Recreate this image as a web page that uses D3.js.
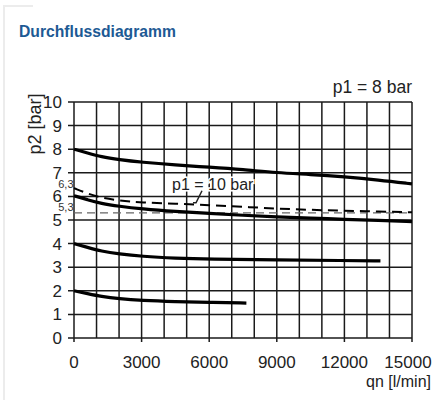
<!DOCTYPE html>
<html>
<head>
<meta charset="utf-8">
<script src="https://cdn.jsdelivr.net/npm/d3@7"></script>
<style>
  body { margin: 0; background: #fff; }
  text { font-family: "Liberation Sans", Arial, sans-serif; }
</style>
</head>
<body>
<div id="chart"></div>
<script>
//Data (qn in l/min, p2 in bar)
let xTicks = [0, 3000, 6000, 9000, 12000, 15000];
let yTicks = [0, 1, 2, 3, 4, 5, 6, 7, 8, 9, 10];
let curveP8 = [[0,8],[600,7.84],[1200,7.68],[2000,7.56],[3000,7.45],[4500,7.33],[6000,7.24],[7500,7.14],[9000,7.0],[10500,6.93],[12000,6.83],[13500,6.7],[15000,6.53]];
let curveP6 = [[0,6.03],[600,5.86],[1200,5.7],[2000,5.58],[3000,5.47],[4500,5.36],[6000,5.28],[7500,5.2],[9000,5.13],[10500,5.08],[12000,5.03],[13500,4.98],[15000,4.93]];
let curveP10 = [[0,6.35],[600,6.12],[1200,5.94],[2000,5.82],[3000,5.74],[4500,5.69],[6000,5.63],[7500,5.56],[9000,5.48],[10500,5.43],[12000,5.39],[13500,5.36],[15000,5.33]];
let curveP4 = [[0,4],[600,3.84],[1200,3.68],[2000,3.56],[3000,3.46],[4500,3.38],[6000,3.34],[9000,3.31],[12000,3.28],[13600,3.27]];
let curveP2 = [[0,2],[600,1.88],[1200,1.76],[2000,1.66],[3000,1.59],[4500,1.54],[6000,1.51],[7650,1.48]];
let refLine = 5.3;
let refLabels = [["6,3", 6.3], ["5,3", 5.3]];

let width = 435;
let height = 400;
let margin = {left: 74, right: 23, top: 102, bottom: 62};

let svg = d3.select("#chart")
  .append("svg")
  .attr("width", width)
  .attr("height", height);

//card border
svg.append("path")
  .attr("d", "M4,400 V6 H33")
  .attr("fill", "none")
  .attr("stroke", "#ececec")
  .attr("stroke-width", 2);

//Title
svg.append("text")
  .attr("x", 19)
  .attr("y", 37)
  .attr("fill", "#1d5a94")
  .style("font-size", "15.7px")
  .style("font-weight", "bold")
  .text("Durchflussdiagramm");

let x = d3.scaleLinear().domain([0, 15000]).range([margin.left, width - margin.right]);
let y = d3.scaleLinear().domain([0, 10]).range([height - margin.bottom, margin.top]);

//grid
let grid = svg.append("g").attr("stroke", "#1a1a1a").attr("stroke-width", 1.5);
grid.selectAll("line.v")
  .data(d3.range(0, 15001, 1000))
  .enter()
  .append("line")
  .attr("x1", d => x(d))
  .attr("x2", d => x(d))
  .attr("y1", y(10))
  .attr("y2", d => xTicks.includes(d) ? y(0) + 4 : y(0));
grid.selectAll("line.h")
  .data(yTicks)
  .enter()
  .append("line")
  .attr("x1", x(0) - 6)
  .attr("x2", x(15000))
  .attr("y1", d => y(d))
  .attr("y2", d => y(d));

//tick labels
svg.append("g")
  .selectAll("text")
  .data(yTicks)
  .enter()
  .append("text")
  .attr("x", x(0) - 12)
  .attr("y", d => y(d) + 6)
  .attr("text-anchor", "end")
  .attr("fill", "#222")
  .style("font-size", "17px")
  .text(d => d);

svg.append("g")
  .selectAll("text")
  .data(xTicks)
  .enter()
  .append("text")
  .attr("x", d => d == 15000 ? x(d) - 4 : x(d))
  .attr("y", y(0) + 30)
  .attr("text-anchor", "middle")
  .attr("fill", "#222")
  .style("font-size", "17px")
  .text(d => d);

//axis titles
svg.append("text")
  .attr("transform", "translate(41," + 124 + ") rotate(-90)")
  .attr("text-anchor", "middle")
  .attr("fill", "#222")
  .style("font-size", "18px")
  .text("p2 [bar]");

svg.append("text")
  .attr("x", 431)
  .attr("y", 387)
  .attr("text-anchor", "end")
  .attr("fill", "#222")
  .style("font-size", "16px")
  .text("qn [l/min]");

svg.append("text")
  .attr("x", 412)
  .attr("y", 93)
  .attr("text-anchor", "end")
  .attr("fill", "#222")
  .style("font-size", "17.5px")
  .text("p1 = 8 bar");

//reference line and labels
svg.append("line")
  .attr("x1", x(0))
  .attr("x2", x(15000))
  .attr("y1", y(refLine))
  .attr("y2", y(refLine))
  .attr("stroke", "#666")
  .attr("stroke-width", 1.2)
  .attr("stroke-dasharray", "8,5");

svg.append("g")
  .selectAll("text")
  .data(refLabels)
  .enter()
  .append("text")
  .attr("x", x(0) - 0.5)
  .attr("y", d => y(d[1]) - 1.5)
  .attr("text-anchor", "end")
  .attr("fill", "#333")
  .style("font-size", "11px")
  .text(d => d[0]);

//curves
let line = d3.line()
  .x(d => x(d[0]))
  .y(d => y(d[1]))
  .curve(d3.curveBasis);

[curveP8, curveP6, curveP4, curveP2].forEach(c => {
  svg.append("path")
    .attr("d", line(c))
    .attr("fill", "none")
    .attr("stroke", "#000")
    .attr("stroke-width", 3.2);
});

svg.append("path")
  .attr("d", line(curveP10))
  .attr("fill", "none")
  .attr("stroke", "#000")
  .attr("stroke-width", 2)
  .attr("stroke-dasharray", "10,6");

//p1 = 10 bar label with leader
svg.append("text")
  .attr("x", x(4350))
  .attr("y", y(6.28))
  .attr("fill", "#222")
  .style("font-size", "16px")
  .style("paint-order", "stroke")
  .style("stroke", "#fff")
  .style("stroke-width", 3)
  .text("p1 = 10 bar");

svg.append("path")
  .attr("d", "M" + x(5680) + "," + y(6.24) + " L" + x(5415) + "," + y(5.73) + " H" + x(5280))
  .attr("fill", "none")
  .attr("stroke", "#222")
  .attr("stroke-width", 1.5);
</script>
</body>
</html>
